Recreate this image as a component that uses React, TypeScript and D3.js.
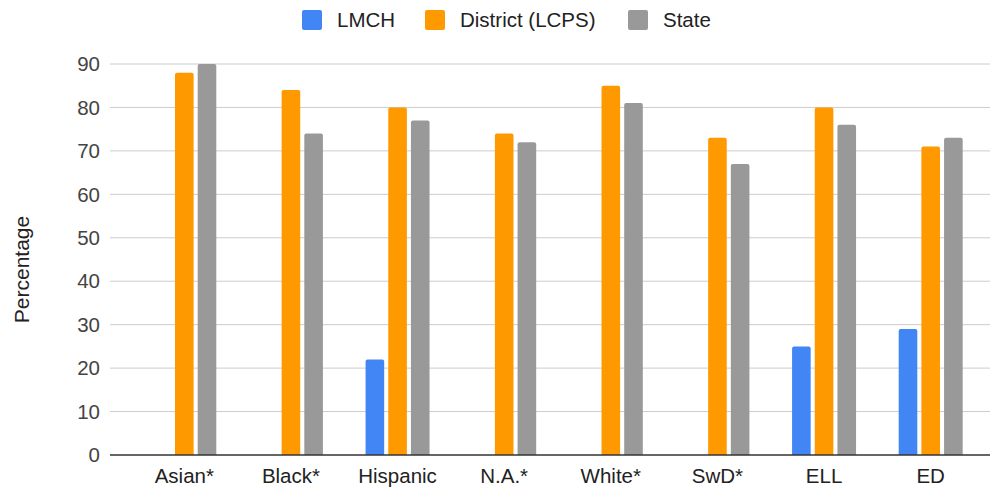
import * as d3 from 'd3'
import { useEffect, useRef } from 'react'

const categories = ['Asian*', 'Black*', 'Hispanic', 'N.A.*', 'White*', 'SwD*', 'ELL', 'ED']
const seriesNames = ['LMCH', 'District (LCPS)', 'State']
const lmch: (number | null)[] = [null, null, 22, null, null, null, 25, 29]
const district = [88, 84, 80, 74, 85, 73, 80, 71]
const state = [90, 74, 77, 72, 81, 67, 76, 73]
const yTicks = [0, 10, 20, 30, 40, 50, 60, 70, 80, 90]

const COLORS = ['#4285f4', '#ff9900', '#999999']
const FONT = '"Liberation Sans", Arial, sans-serif'
const FS = 20.5

const WIDTH = 992
const HEIGHT = 488

export default function App() {
    const ref = useRef<SVGSVGElement>(null)

    useEffect(() => {
        if (!ref.current) return
        const svg = d3.select(ref.current)
        svg.selectAll('*').remove()

        const gridLeft = 110, gridRight = 990
        const x0 = d3.scaleBand<string>().domain(categories).range([131, 984]).paddingInner(0.4).paddingOuter(0.2)
        const x1 = d3.scaleBand<string>().domain(seriesNames).range([0, x0.bandwidth()]).paddingInner(0.18)
        const y = d3.scaleLinear().domain([0, 90]).range([455, 64])

        // gridlines
        svg.append('g').selectAll('line').data(yTicks.filter(t => t > 0)).join('line')
            .attr('x1', gridLeft).attr('x2', gridRight)
            .attr('y1', d => y(d)).attr('y2', d => y(d))
            .attr('stroke', '#cccccc').attr('stroke-width', 1)

        // y tick labels
        svg.append('g').selectAll('text').data(yTicks).join('text')
            .attr('x', 100).attr('y', d => y(d)).attr('dy', '0.35em')
            .attr('text-anchor', 'end').attr('font-family', FONT).attr('font-size', FS)
            .attr('fill', '#444').text(d => d)

        // y title
        svg.append('text')
            .attr('transform', `translate(29, ${(y(0) + y(90)) / 2 + 10}) rotate(-90)`)
            .attr('text-anchor', 'middle').attr('font-family', FONT).attr('font-size', 21)
            .attr('fill', '#222').text('Percentage')

        const series = [lmch, district, state]
        const barW = x1.bandwidth()
        const r = 2
        series.forEach((vals, si) => {
            svg.append('g').selectAll('path').data(vals.map((v, i) => ({ v, c: categories[i] })).filter(d => d.v != null))
                .join('path')
                .attr('fill', COLORS[si])
                .attr('d', d => {
                    const bx = (x0(d.c) ?? 0) + (x1(seriesNames[si]) ?? 0)
                    const top = y(d.v as number)
                    const bottom = y(0)
                    return `M${bx},${bottom}V${top + r}Q${bx},${top} ${bx + r},${top}H${bx + barW - r}Q${bx + barW},${top} ${bx + barW},${top + r}V${bottom}Z`
                })
        })

        // baseline
        svg.append('line').attr('x1', gridLeft).attr('x2', gridRight)
            .attr('y1', y(0)).attr('y2', y(0)).attr('stroke', '#333').attr('stroke-width', 1.5)

        // category labels
        svg.append('g').selectAll('text').data(categories).join('text')
            .attr('x', d => (x0(d) ?? 0) + x0.bandwidth() / 2).attr('y', 483)
            .attr('text-anchor', 'middle').attr('font-family', FONT).attr('font-size', FS)
            .attr('fill', '#222').text(d => d)

        // legend
        const legendX = [302, 425, 628]
        const lg = svg.append('g')
        seriesNames.forEach((name, i) => {
            lg.append('rect').attr('x', legendX[i]).attr('y', 10).attr('width', 20).attr('height', 20)
                .attr('rx', 2).attr('fill', COLORS[i])
            lg.append('text').attr('x', legendX[i] + 35).attr('y', 20).attr('dy', '0.35em')
                .attr('font-family', FONT).attr('font-size', FS).attr('fill', '#222').text(name)
        })
    }, [])

    return (
        <svg ref={ref} width={WIDTH} height={HEIGHT}
            style={{ position: 'absolute', left: 0, top: 0, background: '#fff' }} />
    )
}
